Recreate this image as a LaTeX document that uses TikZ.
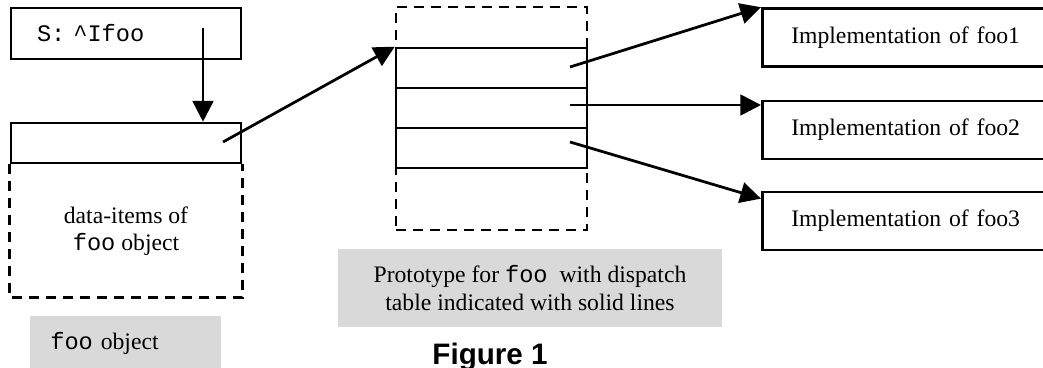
\documentclass[tikz,border=0pt]{standalone}
\usepackage{xcolor}
\usepackage{fontspec}
\setmainfont{Liberation Serif}
\setmonofont{Liberation Mono}
\setsansfont{Liberation Sans}
\usetikzlibrary{arrows.meta}

\definecolor{grisleyenda}{RGB}{217,217,217}

\tikzset{
    caja/.style={draw, line width=1.3pt, inner sep=0pt},
    trazos/.style={line width=1.4pt, dash pattern=on 5.1pt off 3.5pt},
    flecha/.style={line width=1.4pt, -{Triangle[length=10.5pt,width=10.5pt]}},
    leyenda/.style={fill=grisleyenda, inner sep=0pt}
}

\begin{document}
\begin{tikzpicture}[x=0.507pt,y=-0.507pt,font=\fontsize{12pt}{14pt}\selectfont]
        \useasboundingbox (0,0) rectangle (1043,368);
        \clip (0,0) rectangle (1043,368);

        % Paso 1: Variable S y cabecera del objeto foo
        \node[caja, text width=90.2pt, inner xsep=13.2pt, minimum height=25.9pt,
              align=left] (varS) at (126,33.5) {\texttt{S: \textasciicircum Ifoo}};
        \node[caja, minimum width=116.6pt, minimum height=20.3pt] (cabecera) at (126,143) {};
        \coordinate (s0) at (203,28);
        \draw[flecha] (s0) -- (s0 |- cabecera.north);

        % Paso 2: Parte punteada con los datos del objeto
        \draw[trazos] (cabecera.south west) -- ++(0,133) -| (cabecera.south east);
        \node[align=center] (datos) at (126,231) {data-items of\\\texttt{foo} object};

        % Paso 3: Prototipo con la tabla de despacho (filas F1, F2, F3)
        \node[caja, trazos, minimum width=96.8pt, minimum height=113.1pt] (proto) at (491.5,118.5) {};
        \foreach \i/\y in {1/68,2/108,3/148}
            \node[caja, fill=white, minimum width=96.8pt, minimum height=20.3pt] (F\i) at (491.5,\y) {};
        \coordinate (c0) at (223,142);
        \draw[flecha] (c0) -- (F1.north west);

        % Paso 4: Implementaciones de foo1, foo2 y foo3
        \foreach \i/\y in {1/37.5,2/130,3/221}
            \node[caja, anchor=west, text width=150pt, inner xsep=14.7pt,
                  minimum height=29.4pt, align=left] (impl\i) at (761,\y) {Implementation of foo\i};

        % Paso 5: Flechas de la tabla a cada implementacion
        \coordinate (f1) at (570,67);
        \coordinate (f2) at (570,105);
        \coordinate (f3) at (570,142);
        \draw[flecha] (f1) -- (impl1.north west);
        \draw[flecha] (f2) -- (f2 -| impl2.west);
        \draw[flecha] (f3) -- ([yshift=-4pt]impl3.north west);

        % Paso 6: Leyendas en gris y titulo
        \node[leyenda, anchor=north west, text width=76.6pt, inner xsep=10.1pt,
              minimum height=27.4pt, align=left] (leyobj) at (30,316) {\texttt{foo} object};
        \node[leyenda, minimum width=194.7pt, minimum height=39.5pt, align=center] (leyproto) at (530,288)
            {Prototype for \texttt{foo}\ \ with dispatch\\table indicated with solid lines};
        \node[anchor=base, font=\sffamily\bfseries\fontsize{15pt}{18pt}\selectfont] (titulo) at (490,364) {Figure 1};
    \end{tikzpicture}
\end{document}
